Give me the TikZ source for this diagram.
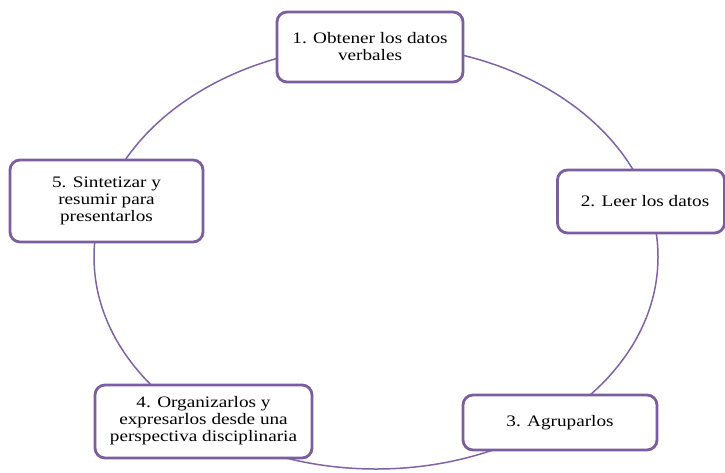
\documentclass[tikz,border=0pt]{standalone}
\usepackage{fontspec}
\newfontfamily\boxfont[FakeStretch=1.2]{Liberation Serif}
\definecolor{ringpurple}{HTML}{8064A2}
\definecolor{boxpurple}{HTML}{7A5E9E}
\begin{document}
\begin{tikzpicture}[x=1pt,y=-1pt,
  stepbox/.style={draw=boxpurple, line width=2.8pt, rounded corners=10pt, fill=white,
    inner sep=0pt, align=center, text=black,
    font=\boxfont\fontsize{16}{17}\selectfont}]
\useasboundingbox (0,0) rectangle (725,472);
\draw[ringpurple, line width=1.5pt] (376,257) ellipse [x radius=282pt, y radius=212pt];
\node[stepbox, minimum width=186pt, minimum height=70pt] (b1) at (370,47) {1. Obtener los datos\\verbales};
\node[stepbox, minimum width=167pt, minimum height=63pt] (b2) at (641,201.5) {\hspace*{8pt}2. Leer los datos};
\node[stepbox, minimum width=194pt, minimum height=55pt] (b3) at (560,422.5) {3. Agruparlos};
\node[stepbox, minimum width=217pt, minimum height=73pt] (b4) at (203.5,421.5) {\raisebox{-2pt}{\begin{tabular}{@{}c@{}}4. Organizarlos y\\expresarlos desde una\\perspectiva disciplinaria\end{tabular}}};
\node[stepbox, minimum width=193pt, minimum height=82pt] (b5) at (106.5,201) {5. Sintetizar y\\resumir para\\presentarlos};
\end{tikzpicture}
\end{document}
